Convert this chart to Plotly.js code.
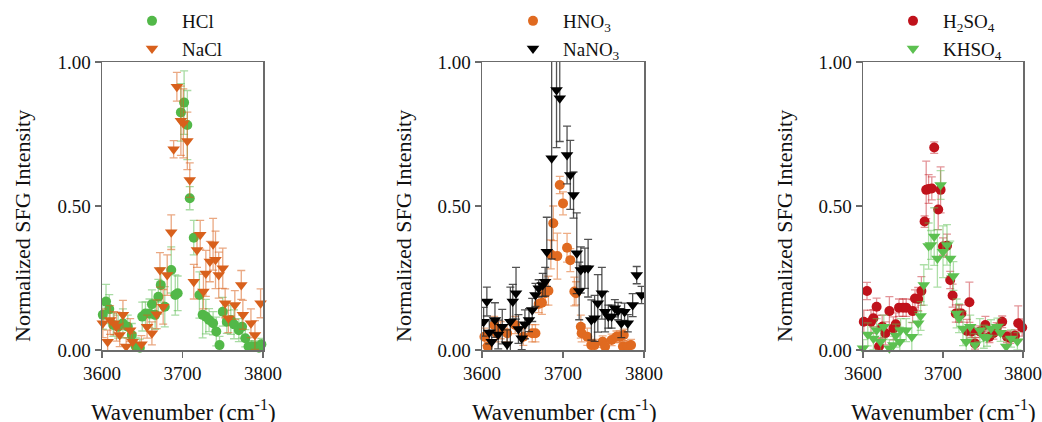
<!DOCTYPE html>
<html>
<head>
<meta charset="utf-8">
<script src="https://cdn.plot.ly/plotly-3.0.1.min.js"></script>
<style>html,body{margin:0;padding:0;background:#fff;}#chart{width:1042px;height:422px;}</style>
</head>
<body>
<div id="chart"></div>
<script>
// ---- Data ----
const hclX = [3601,3605,3609,3614,3620,3626,3632,3637,3642,3647,3650,3654,3659,3662,3666,3670,3673,3678,3686,3691,3694,3698,3702,3706,3709,3714,3721,3725,3729,3733,3738,3742,3746,3750,3755,3760,3764,3770,3774,3778,3782,3786,3790,3795,3798];
const hclY = [0.122,0.168,0.142,0.087,0.081,0.093,0.081,0.052,0.012,0.008,0.116,0.127,0.127,0.159,0.122,0.185,0.226,0.150,0.278,0.191,0.197,0.825,0.859,0.781,0.527,0.390,0.191,0.122,0.116,0.104,0.093,0.064,0.017,0.133,0.098,0.104,0.089,0.069,0.081,0.041,0.012,0.012,0.012,0.008,0.020];
const hclErr = [0.05,0.06,0.05,0.04,0.04,0.05,0.04,0.04,0.03,0.03,0.05,0.04,0.05,0.05,0.05,0.06,0.06,0.07,0.08,0.07,0.06,0.10,0.11,0.12,0.04,0.06,0.08,0.08,0.06,0.04,0.04,0.05,0.03,0.05,0.04,0.05,0.05,0.04,0.04,0.03,0.02,0.02,0.02,0.02,0.02];

const naclX = [3601,3607,3610,3615,3618,3622,3626,3630,3635,3638,3649,3656,3662,3668,3672,3676,3681,3686,3689,3693,3698,3701,3706,3709,3714,3718,3722,3726,3729,3734,3738,3741,3745,3750,3753,3757,3765,3773,3775,3785,3790,3797];
const naclY = [0.093,0.029,0.104,0.093,0.081,0.052,0.122,0.012,0.069,0.029,0.020,0.081,0.058,0.124,0.278,0.150,0.260,0.409,0.697,0.914,0.796,0.787,0.726,0.590,0.237,0.347,0.400,0.203,0.266,0.307,0.367,0.313,0.260,0.284,0.162,0.110,0.156,0.226,0.122,0.093,0.052,0.162];
const naclErr = [0.05,0.04,0.05,0.04,0.05,0.04,0.05,0.03,0.04,0.03,0.03,0.04,0.04,0.05,0.06,0.06,0.07,0.06,0.03,0.05,0.12,0.12,0.10,0.06,0.06,0.06,0.05,0.06,0.08,0.07,0.09,0.10,0.08,0.07,0.05,0.05,0.05,0.05,0.05,0.05,0.05,0.05];

const hno3X = [3603,3607,3615,3618,3623,3631,3641,3651,3662,3666,3670,3674,3678,3682,3685,3688,3693,3696,3700,3705,3709,3714,3716,3722,3723,3730,3735,3739,3749,3752,3760,3766,3770,3774,3775,3780,3784];
const hno3Y = [0.046,0.012,0.087,0.058,0.069,0.058,0.087,0.046,0.058,0.058,0.160,0.164,0.197,0.206,0.332,0.440,0.326,0.573,0.509,0.355,0.312,0.203,0.197,0.081,0.058,0.046,0.017,0.017,0.029,0.012,0.035,0.046,0.046,0.012,0.052,0.012,0.017];
const hno3Err = [0.03,0.02,0.03,0.03,0.03,0.03,0.03,0.03,0.03,0.03,0.03,0.04,0.04,0.05,0.05,0.06,0.08,0.03,0.04,0.05,0.04,0.05,0.04,0.04,0.03,0.03,0.02,0.02,0.02,0.02,0.02,0.02,0.02,0.02,0.02,0.02,0.02];

const nano3X = [3602,3606,3609,3612,3616,3620,3625,3631,3635,3638,3642,3645,3649,3653,3658,3662,3666,3670,3675,3678,3680,3686,3692,3696,3705,3709,3713,3717,3720,3722,3727,3731,3735,3739,3743,3748,3752,3756,3760,3764,3768,3772,3776,3780,3786,3791,3797];
const nano3Y = [0.098,0.168,0.061,0.029,0.104,0.054,0.081,0.020,0.098,0.168,0.197,0.073,0.041,0.089,0.104,0.139,0.191,0.214,0.226,0.237,0.341,0.666,0.903,0.874,0.677,0.608,0.538,0.336,0.205,0.278,0.284,0.284,0.104,0.110,0.162,0.197,0.133,0.116,0.116,0.145,0.135,0.093,0.133,0.093,0.156,0.260,0.191];
const nano3Err = [0.05,0.05,0.04,0.04,0.06,0.05,0.06,0.05,0.12,0.06,0.09,0.05,0.04,0.05,0.04,0.04,0.04,0.03,0.04,0.05,0.12,0.35,0.20,0.15,0.10,0.12,0.08,0.14,0.10,0.08,0.07,0.10,0.07,0.08,0.10,0.09,0.07,0.04,0.04,0.03,0.03,0.05,0.03,0.03,0.04,0.03,0.03];

const h2so4X = [3601,3605,3610,3613,3617,3620,3624,3628,3633,3638,3641,3645,3650,3654,3662,3665,3669,3673,3677,3679,3682,3686,3689,3694,3697,3700,3705,3709,3712,3716,3720,3723,3730,3733,3736,3740,3746,3753,3758,3763,3767,3774,3780,3784,3790,3794,3799];
const h2so4Y = [0.098,0.205,0.098,0.110,0.150,0.012,0.081,0.058,0.135,0.075,0.089,0.147,0.147,0.147,0.135,0.179,0.177,0.205,0.446,0.556,0.559,0.561,0.703,0.488,0.556,0.359,0.362,0.243,0.189,0.127,0.127,0.127,0.066,0.166,0.064,0.023,0.064,0.087,0.046,0.058,0.075,0.098,0.046,0.043,0.050,0.093,0.078];
const h2so4Err = [0.04,0.03,0.04,0.03,0.03,0.03,0.04,0.04,0.05,0.04,0.04,0.03,0.03,0.03,0.04,0.03,0.04,0.05,0.02,0.10,0.05,0.04,0.02,0.07,0.08,0.03,0.04,0.03,0.04,0.03,0.03,0.03,0.04,0.07,0.02,0.02,0.02,0.03,0.02,0.02,0.02,0.02,0.02,0.02,0.02,0.06,0.03];

const khso4X = [3600,3606,3613,3617,3622,3626,3633,3638,3641,3646,3647,3654,3661,3669,3672,3676,3682,3685,3689,3693,3697,3700,3705,3709,3713,3717,3720,3725,3729,3734,3740,3746,3751,3755,3760,3768,3772,3779,3785,3793];
const khso4Y = [0.006,0.054,0.040,0.069,0.029,0.081,0.006,0.017,0.050,0.029,0.069,0.069,0.046,0.093,0.118,0.226,0.361,0.365,0.394,0.318,0.573,0.341,0.365,0.318,0.257,0.127,0.110,0.075,0.029,0.081,0.017,0.069,0.046,0.043,0.075,0.081,0.060,0.012,0.040,0.030];
const khso4Err = [0.03,0.04,0.04,0.04,0.04,0.04,0.03,0.03,0.04,0.05,0.04,0.04,0.05,0.04,0.05,0.07,0.08,0.05,0.10,0.10,0.05,0.09,0.07,0.06,0.05,0.05,0.05,0.06,0.05,0.04,0.04,0.04,0.04,0.03,0.03,0.03,0.03,0.03,0.03,0.03];

const yTicks = [0, 0.5, 1.0];
const yTickText = ['0.00', '0.50', '1.00'];
const xTicks = [3600, 3700, 3800];
const xTickText = ['3600', '3700', '3800'];
const seriesNames = ['HCl', 'NaCl', 'HNO<sub>3</sub>', 'NaNO<sub>3</sub>', 'H<sub>2</sub>SO<sub>4</sub>', 'KHSO<sub>4</sub>'];
const xTitle = 'Wavenumber (cm<sup>-1</sup>)';
const yTitle = 'Normalized SFG Intensity';

// ---- Styling ----
const FONT = "'Liberation Serif', 'Times New Roman', serif";
function tr(x, y, err, name, sym, color, ecolor, xa, ya, leg, clip) {
  return {
    type: 'scatter', mode: 'markers', x: x, y: y, name: name,
    xaxis: xa, yaxis: ya, legend: leg, cliponaxis: clip,
    marker: {symbol: sym, size: sym === 'circle' ? 10 : 11, color: color, line: {width: 0}},
    error_y: {type: 'data', array: err, visible: true, color: ecolor, thickness: 1.3, width: 4}
  };
}
const traces = [
  tr(hclX, hclY, hclErr, seriesNames[0], 'circle', '#52b848', 'rgba(82,184,72,0.5)', 'x', 'y', 'legend', false),
  tr(naclX, naclY, naclErr, seriesNames[1], 'triangle-down', '#d8601c', 'rgba(216,96,28,0.55)', 'x', 'y', 'legend', false),
  tr(hno3X, hno3Y, hno3Err, seriesNames[2], 'circle', '#e06a20', 'rgba(224,106,32,0.55)', 'x2', 'y2', 'legend2', false),
  tr(nano3X, nano3Y, nano3Err, seriesNames[3], 'triangle-down', '#000000', 'rgba(40,40,40,0.8)', 'x2', 'y2', 'legend2', true),
  tr(h2so4X, h2so4Y, h2so4Err, seriesNames[4], 'circle', '#c0121b', 'rgba(192,18,27,0.45)', 'x3', 'y3', 'legend3', false),
  tr(khso4X, khso4Y, khso4Err, seriesNames[5], 'triangle-down', '#5cc050', 'rgba(92,192,80,0.5)', 'x3', 'y3', 'legend3', false)
];

const W = 1042, H = 422;
const frames = [[102, 263], [482, 644], [863, 1023]];
const yDom = [1 - 350 / H, 1 - 62 / H];
function xa(i, anchor) {
  return {
    domain: [frames[i][0] / W, frames[i][1] / W], anchor: anchor,
    range: [3600, 3800], tickvals: xTicks, ticktext: xTickText,
    showgrid: false, zeroline: false, showline: true, mirror: true,
    linecolor: '#6b6b6b', linewidth: 1.5, ticks: 'outside', ticklen: 6,
    tickcolor: '#6b6b6b', tickwidth: 1.5, tickfont: {family: FONT, size: 19, color: '#111'},
    automargin: false, fixedrange: true
  };
}
function ya(i, anchor) {
  return {
    domain: yDom, anchor: anchor, range: [0, 1],
    tickvals: yTicks, ticktext: yTickText,
    showgrid: false, zeroline: false, showline: true, mirror: true,
    linecolor: '#6b6b6b', linewidth: 1.5, ticks: 'outside', ticklen: 6,
    tickcolor: '#6b6b6b', tickwidth: 1.5, tickfont: {family: FONT, size: 19, color: '#111'},
    automargin: false, fixedrange: true
  };
}
function leg(px) {
  return {
    x: px / W, xanchor: 'left', y: 1 - 2 / H, yanchor: 'top',
    bgcolor: 'rgba(0,0,0,0)', borderwidth: 0,
    font: {family: FONT, size: 19, color: '#111'}, itemwidth: 50,
    tracegroupgap: 0
  };
}
const titleX = [183, 564, 943];
const titleYX = [22, 403, 784];
const annotations = [];
for (let i = 0; i < 3; i++) {
  annotations.push({text: xTitle, xref: 'paper', yref: 'paper', x: titleX[i] / W, y: 1 - 410 / H,
    xanchor: 'center', yanchor: 'middle', showarrow: false, font: {family: FONT, size: 23, color: '#111'}});
  annotations.push({text: yTitle, xref: 'paper', yref: 'paper', x: titleYX[i] / W, y: 1 - 226 / H,
    xanchor: 'center', yanchor: 'middle', textangle: -90, showarrow: false, font: {family: FONT, size: 22, color: '#111'}});
}
const layout = {
  width: W, height: H, margin: {l: 0, r: 0, t: 0, b: 0},
  paper_bgcolor: '#fff', plot_bgcolor: '#fff', showlegend: true,
  font: {family: FONT, color: '#111'},
  xaxis: xa(0, 'y'), yaxis: ya(0, 'x'),
  xaxis2: xa(1, 'y2'), yaxis2: ya(1, 'x2'),
  xaxis3: xa(2, 'y3'), yaxis3: ya(2, 'x3'),
  legend: leg(122), legend2: leg(503), legend3: leg(883),
  annotations: annotations
};
Plotly.newPlot('chart', traces, layout, {staticPlot: true, displayModeBar: false});
</script>
</body>
</html>
